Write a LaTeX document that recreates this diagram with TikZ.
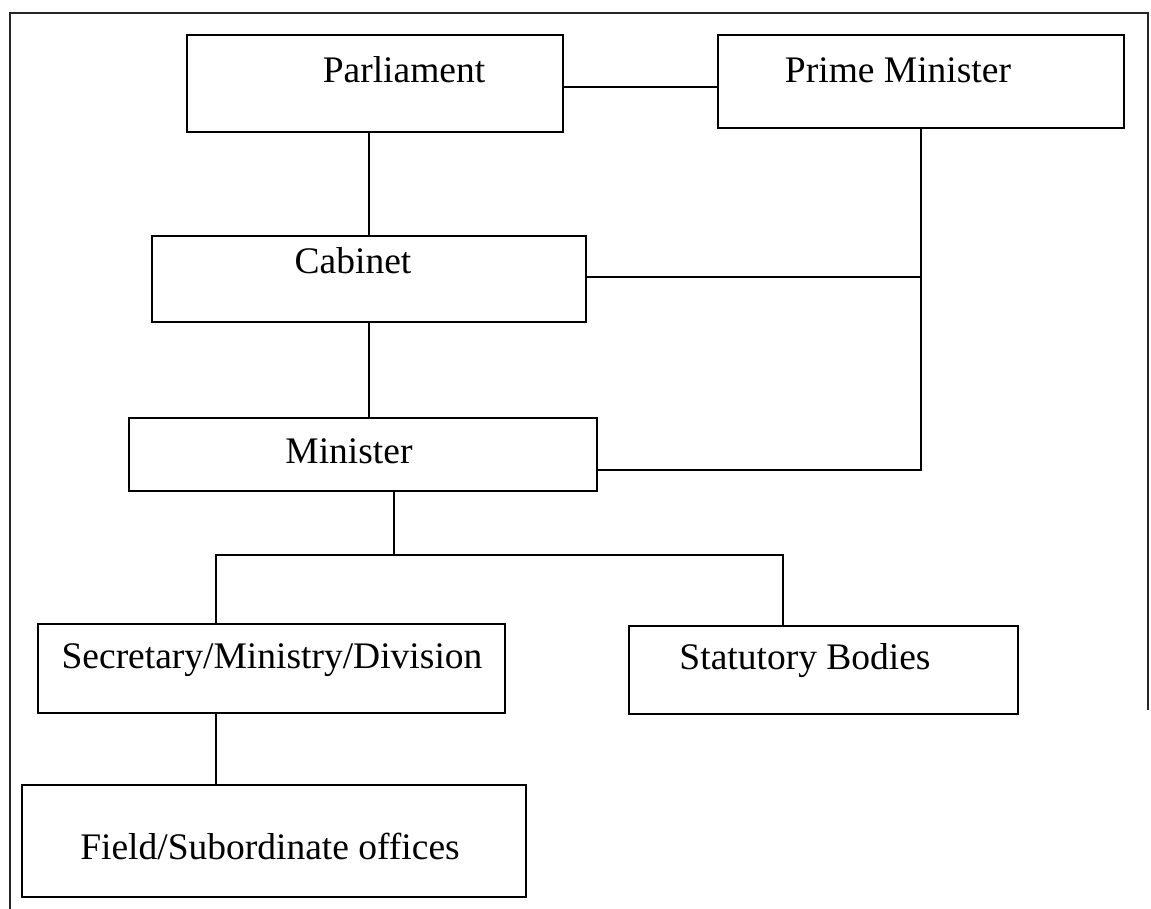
\documentclass[tikz,border=0pt]{standalone}
\usepackage{fontspec}
\setmainfont{Liberation Serif}
\begin{document}
\begin{tikzpicture}[x=1pt,y=-1pt,
  box/.style={draw=black,line width=2pt,rectangle,inner sep=0pt},
  txt/.style={anchor=base,inner sep=0pt,font=\fontsize{37.5}{40}\selectfont},
  conn/.style={draw=black,line width=1.6pt},
  framestyle/.style={draw=black!85,line width=1.6pt}]
\useasboundingbox (0,0) rectangle (1151,909);
% frame
\coordinate (fbl) at (10,909);
\coordinate (ftl) at (10,13);
\coordinate (ftr) at (1148,13);
\coordinate (fbr) at (1148,710);
\draw[framestyle] (fbl) -- (ftl) -- (ftr) -- (fbr);
% boxes
\node[box,minimum width=376pt,minimum height=97pt] (parl) at (375,83.5) {};
\node[box,minimum width=406pt,minimum height=93pt] (pm) at (921,81.5) {};
\node[box,minimum width=434pt,minimum height=86pt] (cab) at (369,279) {};
\node[box,minimum width=468pt,minimum height=73pt] (min) at (363,454.5) {};
\node[box,minimum width=467pt,minimum height=89pt] (sec) at (271.5,668.5) {};
\node[box,minimum width=389pt,minimum height=88pt] (stat) at (823.5,670) {};
\node[box,minimum width=504pt,minimum height=112pt] (field) at (274,841) {};
% texts
\node[txt] (parlT) at (404,83) {Parliament};
\node[txt] (pmT) at (898,83) {Prime Minister};
\node[txt] (cabT) at (353,274) {Cabinet};
\node[txt] (minT) at (349,463) {Minister};
\node[txt] (secT) at (272,668) {Secretary/Ministry/Division};
\node[txt] (statT) at (805,669) {Statutory Bodies};
\node[txt] (fieldT) at (270,859) {Field/Subordinate offices};
% connectors
\coordinate (j1) at (921,277);
\coordinate (j2) at (921,470);
\coordinate (b) at (394,555);
\coordinate (bl) at (216,555);
\coordinate (br) at (783,555);
\draw[conn] (parl.east |- 0,87) -- (pm.west |- 0,87);
\draw[conn] (cab.north) -- (cab.north |- parl.south);
\draw[conn] (cab.south) -- (cab.south |- min.north);
\draw[conn] (pm.south) -- (j2) -- (j2 -| min.east);
\draw[conn] (cab.east |- j1) -- (j1);
\draw[conn] (b |- min.south) -- (b);
\draw[conn] (bl |- sec.north) -- (bl) -- (br) -- (br |- stat.north);
\draw[conn] (bl |- sec.south) -- (bl |- field.north);
\end{tikzpicture}
\end{document}
